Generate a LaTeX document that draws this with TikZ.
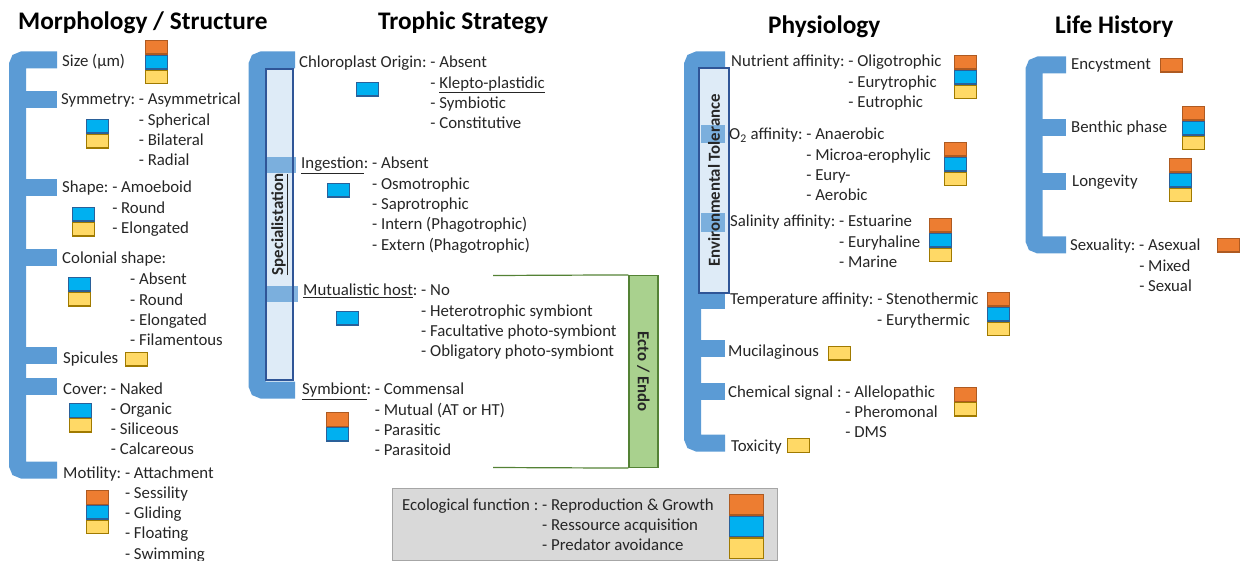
\documentclass[tikz,border=0pt]{standalone}
\usepackage{fontspec}
\setmainfont{Carlito}
\usepackage{graphicx}
\usetikzlibrary{positioning}

\definecolor{bracket}{HTML}{5B9BD5}
\definecolor{inbox}{HTML}{DEEBF7}
\definecolor{inline}{HTML}{2F5597}
\definecolor{rgfill}{HTML}{ED7D31}
\definecolor{rgline}{HTML}{AE5A21}
\definecolor{rafill}{HTML}{00B0F0}
\definecolor{raline}{HTML}{2A6099}
\definecolor{pafill}{HTML}{FFD966}
\definecolor{paline}{HTML}{A07A00}
\definecolor{ectofill}{HTML}{A9D18E}
\definecolor{ectoline}{HTML}{548235}
\definecolor{legfill}{HTML}{D9D9D9}
\definecolor{legline}{HTML}{A6A6A6}
\definecolor{txt}{HTML}{262626}

\newcommand{\itemfont}{\fontsize{16.8}{20.3}\selectfont}
\newcommand{\headfont}{\fontsize{25.3}{28}\selectfont\bfseries}

\tikzset{
  brace/.style={draw=bracket, line width=17pt},
  item/.style={anchor=base west, inner sep=0pt, text=txt, font=\itemfont},
  head/.style={anchor=base west, inner sep=0pt, font=\headfont},
  fbox/.style={draw, line width=1.3pt, minimum width=22pt, minimum height=13.5pt, inner sep=0pt},
  rg/.style={fbox, fill=rgfill, draw=rgline},
  ra/.style={fbox, fill=rafill, draw=raline},
  pa/.style={fbox, fill=pafill, draw=paline},
  lbox/.style={minimum width=34pt, minimum height=20.3pt},
  tab/.style={fill=bracket, fill opacity=0.75},
  sidebox/.style={draw=inline, line width=1.2pt, inner sep=0pt, text=txt, font=\itemfont\bfseries},
}

\begin{document}
\begin{tikzpicture}[x=1pt,y=-1pt]
    \useasboundingbox (0,0) rectangle (1240,561);

    % headings
    \node[head] at (18,30) (hmorph) {Morphology / Structure};
    \node[head] at (378,30) (htroph) {Trophic Strategy};
    \node[head] at (768,34) (hphys) {Physiology};
    \node[head] at (1055,34) (hlife) {Life History};

    % Morphology / Structure
    \draw[brace, rounded corners=5pt] (57,60) -- (17.5,60) -- (17.5,470) -- (57,470);
    \foreach \y in {100,188,258,356,386}
        \draw[brace] (17.5,\y) -- (57,\y);

    \node[item] at (62,67) (size) {Size (µm)};
    \node[item] at (61,105) (symm) {\begin{tabular}[t]{@{}l@{\ }l@{}}Symmetry: & - Asymmetrical\\ & - Spherical\\ & - Bilateral\\ & - Radial\end{tabular}};
    \node[item] at (62,193) (shape) {\begin{tabular}[t]{@{}l@{\ }l@{}}Shape: & - Amoeboid\\ & - Round\\ & - Elongated\end{tabular}};
    \node[item] at (62,264) (colo) {Colonial shape:};
    \node[item] at (130,285) (colsub) {\begin{tabular}[t]{@{}l@{}}- Absent\\ - Round\\ - Elongated\\ - Filamentous\end{tabular}};
    \node[item] at (63,363) (spic) {Spicules};
    \node[item] at (63,394) (cover) {\begin{tabular}[t]{@{}l@{\ }l@{}}Cover: & - Naked\\ & - Organic\\ & - Siliceous\\ & - Calcareous\end{tabular}};
    \node[item] at (63,478) (moti) {\begin{tabular}[t]{@{}l@{\ }l@{}}Motility: & - Attachment\\ & - Sessility\\ & - Gliding\\ & - Floating\\ & - Swimming\end{tabular}};

    \node[rg, anchor=north west] at (145,40) (sizeA) {};
    \node[ra, below=0pt of sizeA] (sizeB) {};
    \node[pa, below=0pt of sizeB] (sizeC) {};
    \node[ra, anchor=north west] at (86,119) (symmA) {};
    \node[pa, below=0pt of symmA] (symmB) {};
    \node[ra, anchor=north west] at (72,207) (shapeA) {};
    \node[pa, below=0pt of shapeA] (shapeB) {};
    \node[ra, anchor=north west] at (68,277) (coloA) {};
    \node[pa, below=0pt of coloA] (coloB) {};
    \node[pa, anchor=north west] at (125,352) (spicA) {};
    \node[ra, anchor=north west] at (69,403) (coverA) {};
    \node[pa, below=0pt of coverA] (coverB) {};
    \node[rg, anchor=north west] at (86,490) (motiA) {};
    \node[ra, below=0pt of motiA] (motiB) {};
    \node[pa, below=0pt of motiB] (motiC) {};

    % Trophic Strategy
    \draw[brace, rounded corners=5pt] (295,60) -- (257,60) -- (257,390) -- (295,390);
    \fill[inbox] (266,69) rectangle (293,380);
    \fill[tab] (266,157) rectangle (296,173);
    \fill[tab] (266,286) rectangle (298,302);
    \node[sidebox, minimum width=27pt, minimum height=311pt] at (279.5,224.5) (spec) {\rotatebox{90}{\underline{Specialistation}}};

    \node[item] at (299,68) (chlo) {\begin{tabular}[t]{@{}l@{\ }l@{}}Chloroplast Origin: & - Absent\\ & - \underline{Klepto-plastidic}\\ & - Symbiotic\\ & - Constitutive\end{tabular}};
    \node[item] at (301,169) (inge) {\begin{tabular}[t]{@{}l@{\ }l@{}}\underline{Ingestion}: & - Absent\\ & - Osmotrophic\\ & - Saprotrophic\\ & - Intern (Phagotrophic)\\ & - Extern (Phagotrophic)\end{tabular}};
    \node[item] at (303,296) (mutu) {\begin{tabular}[t]{@{}l@{\ }l@{}}\underline{Mutualistic host}: & - No\\ & - Heterotrophic symbiont\\ & - Facultative photo-symbiont\\ & - Obligatory photo-symbiont\end{tabular}};
    \node[item] at (302,395) (symb) {\begin{tabular}[t]{@{}l@{\ }l@{}}\underline{Symbiont}: & - Commensal\\ & - Mutual (AT or HT)\\ & - Parasitic\\ & - Parasitoid\end{tabular}};

    \node[ra, anchor=north west] at (356,82) (chloA) {};
    \node[ra, anchor=north west] at (327,183) (ingeA) {};
    \node[ra, anchor=north west] at (336,311) (mutuA) {};
    \node[rg, anchor=north west] at (326,412) (symbA) {};
    \node[ra, below=0pt of symbA] (symbB) {};

    \node[draw=ectoline, fill=ectofill, line width=1.2pt, minimum width=29pt, minimum height=192pt, inner sep=0pt, text=txt, font=\itemfont\bfseries] at (643.5,371.5) (ecto) {\rotatebox{-90}{Ecto / Endo}};
    \coordinate (ectoT) at (493,275.5);
    \coordinate (ectoB) at (493,467.5);
    \draw[ectoline, line width=1.2pt] (ectoT) -- (ecto.north west);
    \draw[ectoline, line width=1.2pt] (ectoB) -- (ecto.south west);

    % Physiology
    \draw[brace, rounded corners=5pt] (725,60) -- (692.5,60) -- (692.5,443) -- (725,443);
    \foreach \y in {301,349,391}
        \draw[brace] (692.5,\y) -- (725,\y);
    \fill[inbox] (699,68) rectangle (729,293);
    \fill[tab] (701,125) rectangle (725,143);
    \fill[tab] (701,213) rectangle (725,232);
    \node[sidebox, minimum width=30pt, minimum height=225pt] at (714,180.5) (envt) {\rotatebox{90}{Environmental Tolerance}};

    \node[item] at (731,67) (nutr) {\begin{tabular}[t]{@{}l@{\ }l@{}}Nutrient affinity: & - Oligotrophic\\ & - Eurytrophic\\ & - Eutrophic\end{tabular}};
    \node[item] at (729,140) (oxyg) {\begin{tabular}[t]{@{}l@{\ }l@{}}O\textsubscript{2} affinity: & - Anaerobic\\ & - Microa-erophylic\\ & - Eury-\\ & - Aerobic\end{tabular}};
    \node[item] at (730,227) (sali) {\begin{tabular}[t]{@{}l@{\ }l@{}}Salinity affinity: & - Estuarine\\ & - Euryhaline\\ & - Marine\end{tabular}};
    \node[item] at (730,305) (temp) {\begin{tabular}[t]{@{}l@{\ }l@{}}Temperature affinity: & - Stenothermic\\ & - Eurythermic\end{tabular}};
    \node[item] at (728,356) (muci) {Mucilaginous};
    \node[item] at (728,397) (chem) {\begin{tabular}[t]{@{}l@{\ }l@{}}Chemical signal : & - Allelopathic\\ & - Pheromonal\\ & - DMS\end{tabular}};
    \node[item] at (731,451) (toxi) {Toxicity};

    \node[rg, anchor=north west] at (954,55) (nutrA) {};
    \node[ra, below=0pt of nutrA] (nutrB) {};
    \node[pa, below=0pt of nutrB] (nutrC) {};
    \node[rg, anchor=north west] at (944,142) (oxygA) {};
    \node[ra, below=0pt of oxygA] (oxygB) {};
    \node[pa, below=0pt of oxygB] (oxygC) {};
    \node[rg, anchor=north west] at (929,218) (saliA) {};
    \node[ra, below=0pt of saliA] (saliB) {};
    \node[pa, below=0pt of saliB] (saliC) {};
    \node[rg, anchor=north west] at (987,292) (tempA) {};
    \node[ra, below=0pt of tempA] (tempB) {};
    \node[pa, below=0pt of tempB] (tempC) {};
    \node[pa, anchor=north west] at (828,346) (muciA) {};
    \node[rg, anchor=north west] at (954,387) (chemA) {};
    \node[pa, below=0pt of chemA] (chemB) {};
    \node[pa, anchor=north west] at (787,438) (toxiA) {};

    % Life History
    \draw[brace, rounded corners=5pt] (1066,65) -- (1034,65) -- (1034,245) -- (1066,245);
    \foreach \y in {128,182}
        \draw[brace] (1034,\y) -- (1066,\y);

    \node[item] at (1071,70) (ency) {Encystment};
    \node[item] at (1071,133) (bent) {Benthic phase};
    \node[item] at (1072,187) (long) {Longevity};
    \node[item] at (1070,251) (sexu) {\begin{tabular}[t]{@{}l@{\ }l@{}}Sexuality: & - Asexual\\ & - Mixed\\ & - Sexual\end{tabular}};

    \node[rg, anchor=north west] at (1160,58) (encyA) {};
    \node[rg, anchor=north west] at (1182,106) (bentA) {};
    \node[ra, below=0pt of bentA] (bentB) {};
    \node[pa, below=0pt of bentB] (bentC) {};
    \node[rg, anchor=north west] at (1169,158) (longA) {};
    \node[ra, below=0pt of longA] (longB) {};
    \node[pa, below=0pt of longB] (longC) {};
    \node[rg, anchor=north west] at (1217,238) (sexuA) {};

    % legend
    \node[draw=legline, fill=legfill, line width=1pt, minimum width=385pt, minimum height=72pt, inner sep=0pt] at (584.5,524) (lege) {};
    \node[item] at (402,510) (legt) {\begin{tabular}[t]{@{}l@{\ }l@{}}Ecological function : & - Reproduction \& Growth\\ & - Ressource acquisition\\ & - Predator avoidance\end{tabular}};
    \node[rg, lbox, anchor=north west] at (729,494) (legA) {};
    \node[ra, lbox, below=0pt of legA] (legB) {};
    \node[pa, lbox, below=0pt of legB] (legC) {};
\end{tikzpicture}
\end{document}
